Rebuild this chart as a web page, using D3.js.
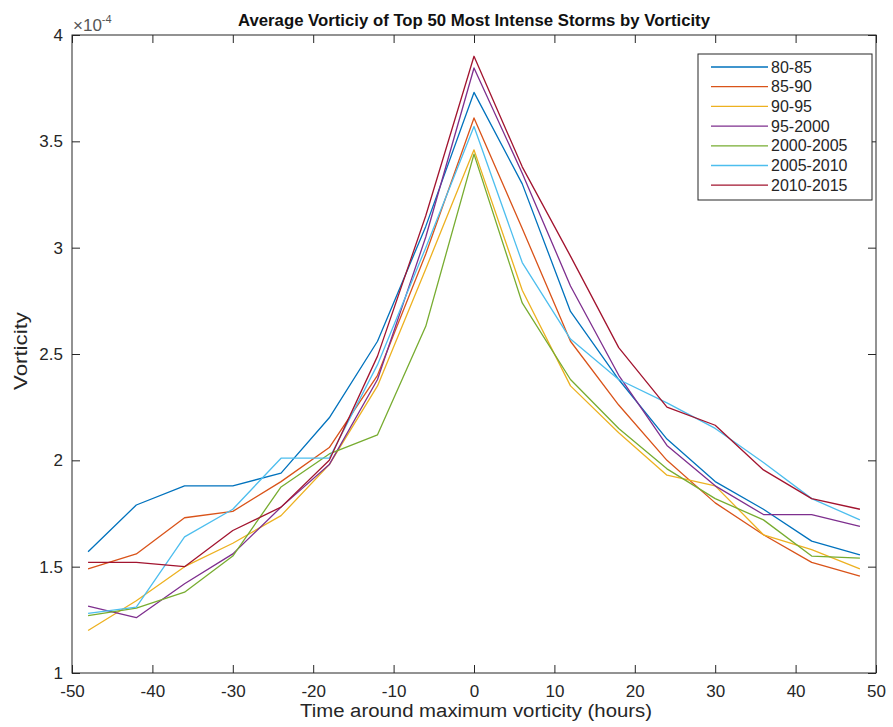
<!DOCTYPE html>
<html>
<head>
<meta charset="utf-8">
<script src="https://cdn.jsdelivr.net/npm/d3@7"></script>
<style>
  body { margin: 0; background: #fff; }
  text { font-family: "Liberation Sans", Arial, sans-serif; }
</style>
</head>
<body>
<svg id="chart" width="893" height="727"></svg>
<script>
// hours relative to the vorticity maximum
var hours = [-48, -42, -36, -30, -24, -18, -12, -6, 0, 6, 12, 18, 24, 30, 36, 42, 48];

// average vorticity, units of 1e-4
var s8085   = [1.57, 1.79, 1.88, 1.88, 1.94, 2.20, 2.56, 3.10, 3.73, 3.30, 2.70, 2.38, 2.10, 1.90, 1.77, 1.62, 1.555];
var s8590   = [1.49, 1.56, 1.73, 1.76, 1.90, 2.06, 2.40, 2.97, 3.61, 3.09, 2.56, 2.26, 2.00, 1.80, 1.65, 1.52, 1.455];
var s9095   = [1.20, 1.34, 1.50, 1.61, 1.74, 1.98, 2.35, 2.90, 3.46, 2.80, 2.35, 2.13, 1.93, 1.88, 1.65, 1.58, 1.49];
var s952000 = [1.315, 1.26, 1.42, 1.56, 1.78, 1.98, 2.38, 3.05, 3.845, 3.35, 2.82, 2.40, 2.07, 1.88, 1.745, 1.745, 1.69];
var s0005   = [1.27, 1.305, 1.38, 1.55, 1.875, 2.03, 2.12, 2.63, 3.44, 2.74, 2.38, 2.15, 1.96, 1.82, 1.72, 1.55, 1.54];
var s0510   = [1.28, 1.31, 1.64, 1.77, 2.01, 2.01, 2.45, 3.00, 3.57, 2.93, 2.57, 2.38, 2.27, 2.15, 1.99, 1.82, 1.72];
var s1015   = [1.52, 1.52, 1.50, 1.67, 1.78, 2.00, 2.49, 3.15, 3.90, 3.38, 2.96, 2.53, 2.25, 2.165, 1.955, 1.82, 1.77];

var seriesNames = ["80-85", "85-90", "90-95", "95-2000", "2000-2005", "2005-2010", "2010-2015"];
var seriesValues = [s8085, s8590, s9095, s952000, s0005, s0510, s1015];
var colors = ["#0072BD", "#D95319", "#EDB120", "#7E2F8E", "#77AC30", "#4DBEEE", "#A2142F"];

var xTicks = [-50, -40, -30, -20, -10, 0, 10, 20, 30, 40, 50];
var yTicks = [1, 1.5, 2, 2.5, 3, 3.5, 4];

// plot box ("top" is taken by window.top, so prefixed names)
var boxL = 72, boxR = 876, boxT = 35, boxB = 673;

var svg = d3.select("#chart");

var x = d3.scaleLinear().domain([-50, 50]).range([boxL, boxR]);
var y = d3.scaleLinear().domain([1, 4]).range([boxB, boxT]);

var axisColor = "#262626";
var plain = function(d) { return String(d); };   // hyphen minus like matlab

// lines
var line = d3.line()
  .x(function(d, i) { return x(hours[i]); })
  .y(function(d) { return y(d); });

svg.append("g").selectAll("path")
  .data(seriesValues)
  .enter().append("path")
  .attr("d", line)
  .attr("fill", "none")
  .attr("stroke", function(d, i) { return colors[i]; })
  .attr("stroke-width", 1.3)
  .attr("stroke-linejoin", "round");

// axes, ticks pointing inward
function styleAxis(g) {
  g.select(".domain").remove();
  g.selectAll(".tick line").attr("stroke", axisColor);
  g.selectAll(".tick text").attr("fill", axisColor).attr("font-size", 17);
}

svg.append("g")
  .attr("transform", "translate(0," + boxB + ")")
  .call(d3.axisBottom(x).tickValues(xTicks).tickSize(-8).tickFormat(plain))
  .call(styleAxis)
  .selectAll(".tick text").attr("y", 24).attr("dy", 0);

svg.append("g")
  .attr("transform", "translate(0," + boxT + ")")
  .call(d3.axisTop(x).tickValues(xTicks).tickSize(-8).tickFormat(""))
  .call(styleAxis);

svg.append("g")
  .attr("transform", "translate(" + boxL + ",0)")
  .call(d3.axisLeft(y).tickValues(yTicks).tickSize(-8).tickFormat(plain))
  .call(styleAxis)
  .selectAll(".tick text").attr("x", -9);

svg.append("g")
  .attr("transform", "translate(" + boxR + ",0)")
  .call(d3.axisRight(y).tickValues(yTicks).tickSize(-8).tickFormat(""))
  .call(styleAxis);

svg.append("rect")
  .attr("x", boxL).attr("y", boxT)
  .attr("width", boxR - boxL).attr("height", boxB - boxT)
  .attr("fill", "none").attr("stroke", axisColor).attr("stroke-width", 1);

// exponent label
var ex = svg.append("text")
  .attr("x", boxL + 1).attr("y", 31)
  .attr("fill", "#555").attr("font-size", 17);
ex.append("tspan").text("\u00d710");
ex.append("tspan").attr("dy", -8).attr("font-size", 11).text("-4");

// title
svg.append("text")
  .attr("x", 474).attr("y", 26)
  .attr("text-anchor", "middle")
  .attr("font-weight", "bold").attr("font-size", 17)
  .attr("textLength", 472).attr("lengthAdjust", "spacingAndGlyphs")
  .attr("fill", "#111")
  .text("Average Vorticiy of Top 50 Most Intense Storms by Vorticity");

// axis labels
svg.append("text")
  .attr("x", 476).attr("y", 717)
  .attr("text-anchor", "middle")
  .attr("font-size", 18).attr("fill", axisColor)
  .attr("textLength", 352).attr("lengthAdjust", "spacingAndGlyphs")
  .text("Time around maximum vorticity (hours)");

svg.append("text")
  .attr("transform", "translate(27,351) rotate(-90)")
  .attr("text-anchor", "middle")
  .attr("font-size", 18).attr("fill", axisColor)
  .attr("textLength", 78).attr("lengthAdjust", "spacingAndGlyphs")
  .text("Vorticity");

// legend
var lg = svg.append("g");
lg.append("rect")
  .attr("x", 698).attr("y", 54).attr("width", 174).attr("height", 146)
  .attr("fill", "#fff").attr("stroke", axisColor).attr("stroke-width", 1);

var rows = lg.selectAll("g.row")
  .data(seriesNames)
  .enter().append("g")
  .attr("transform", function(d, i) { return "translate(0," + (67 + i * 19.7) + ")"; });

rows.append("line")
  .attr("x1", 711).attr("x2", 768)
  .attr("stroke", function(d, i) { return colors[i]; })
  .attr("stroke-width", 1.3);

rows.append("text")
  .attr("x", 771).attr("dy", "0.35em")
  .attr("font-size", 16).attr("fill", axisColor)
  .text(function(d) { return d; });
</script>
</body>
</html>
